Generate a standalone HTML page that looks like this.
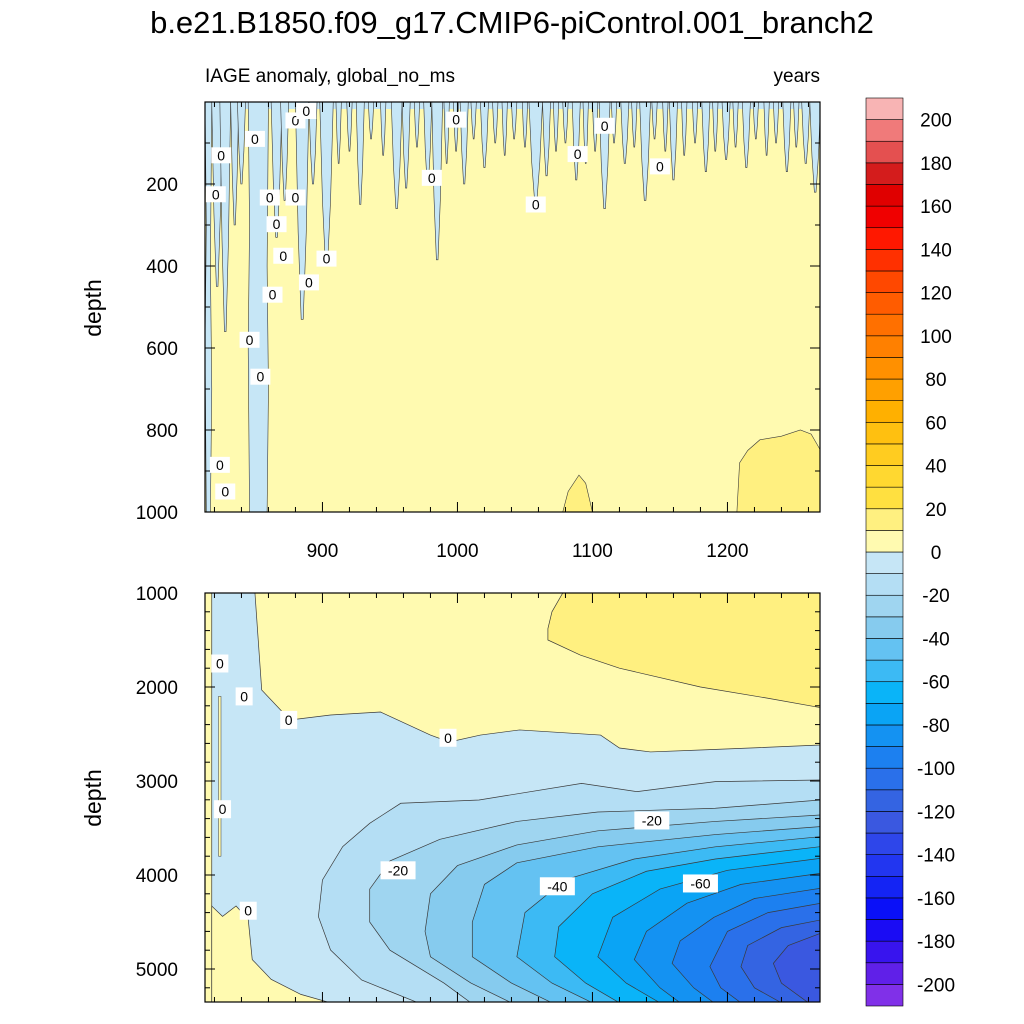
<!DOCTYPE html>
<html><head><meta charset="utf-8"><style>
html,body{margin:0;padding:0;background:#fff;}
svg{display:block;font-family:"Liberation Sans",sans-serif;}
</style></head><body>
<svg id="chart" width="1024" height="1024" viewBox="0 0 1024 1024" xmlns="http://www.w3.org/2000/svg">
<text x="512" y="33" font-size="31" text-anchor="middle">b.e21.B1850.f09_g17.CMIP6-piControl.001_branch2</text>
<text x="205" y="82" font-size="19">IAGE anomaly, global_no_ms</text>
<text x="820" y="82" font-size="19" text-anchor="end">years</text>
<text transform="translate(101,308) rotate(-90)" font-size="23" text-anchor="middle">depth</text>
<text transform="translate(101,798) rotate(-90)" font-size="23" text-anchor="middle">depth</text>
<defs>
<clipPath id="clipTop"><rect x="205" y="102" width="615" height="410"/></clipPath>
<clipPath id="clipBot"><rect x="205" y="593" width="615" height="409"/></clipPath>
</defs>
<g id="topPanel" clip-path="url(#clipTop)"></g>
<g id="botPanel" clip-path="url(#clipBot)"></g>
<g id="axes"></g>
<g id="cbar"></g>
</svg>
<script>
// ---------- data ----------
const levelColors = ["#8030e8","#6020e8","#3814ee","#1a0cf4","#0a10f8","#1424f4","#2236f0","#2e46ea","#3a58e0","#3464e2","#2a70ea","#1c80f0","#1492f2","#0aa4f5","#0ab4f8","#3cbaf4","#64c2f2","#86cbee","#9fd5f0","#b4def4","#c6e6f6","#fffab0","#fff080","#ffe040","#ffd830","#ffcc20","#ffc010","#ffb000","#ffa000","#ff9000","#ff8000","#ff7000","#ff5c00","#ff4800","#ff3000","#ff1800","#f00000","#e00000","#d41c1c","#e45050","#f07a7a","#f8b4b4"];
const cbarLabels = [-200,-180,-160,-140,-120,-100,-80,-60,-40,-20,0,20,40,60,80,100,120,140,160,180,200];
const xTicks = [900,1000,1100,1200];
const topYTicks = [200,400,600,800,1000];
const botYTicks = [1000,2000,3000,4000,5000];

const spikeYears  = [822,828,835,840,866,872,885,893,903,912,920,928,936,945,955,962,970,978,985,992,999,1005,1012,1020,1028,1035,1042,1050,1058,1066,1073,1080,1088,1095,1102,1109,1116,1124,1131,1139,1146,1154,1160,1168,1176,1184,1191,1199,1206,1214,1221,1229,1236,1244,1251,1258,1265];
const spikeDepths = [450,560,300,200,330,240,530,200,400,150,120,250,90,130,260,210,110,200,385,150,120,200,90,160,100,130,90,110,245,180,120,100,190,150,120,260,100,150,110,240,90,120,190,130,100,170,120,140,110,160,90,130,100,170,110,150,220];
const spikeWidths = [4,4,3,3,4,3,5,3,5,2,2,3,2,2,4,3,2,3,4,2,2,3,2,3,2,2,2,2,5,3,2,2,3,2,2,4,2,3,2,4,2,2,3,2,2,3,2,3,2,3,2,2,2,3,2,3,4];
const deepColumnYears  = [813,818,845,860];
const topWarmYears  = [1207,1209,1215,1224,1240,1254,1262,1269,1269];
const topWarmDepths = [1000,880,850,824,815,800,810,850,1000];
const topHumpYears  = [1078,1082,1090,1095,1100];
const topHumpDepths = [1000,950,910,930,1000];

const zeroYears  = [818,850,855,876,906,943,980,994,1017,1046,1106,1120,1143,1180,1217,1269];
const zeroDepths = [1000,1000,2032,2351,2298,2266,2511,2585,2511,2457,2511,2649,2691,2670,2649,2617];
const warmYears  = [1078,1269,1269,1230,1180,1120,1091,1067,1067,1070];
const warmDepths = [1000,1000,2220,2120,2000,1800,1660,1500,1380,1200];
const blYears  = [818,818,826,836,845,848,862,884,906];
const blDepths = [5360,4330,4440,4330,4470,4900,5110,5270,5360];
const negLevels = [-10,-20,-30,-40,-50,-60,-70,-80,-90,-100,-110,-120];
const negYears = [
 [1269,1191,1133,1092,1016,958,935,915,900,897,906,929,971],
 [1269,1191,1104,1044,987,950,935,935,950,990,1010],
 [1269,1191,1104,1044,1000,980,976,980,1010,1040],
 [1269,1191,1104,1044,1020,1011,1011,1040,1070],
 [1269,1191,1131,1080,1050,1044,1070,1100],
 [1269,1191,1140,1100,1075,1072,1095,1120],
 [1269,1200,1150,1115,1104,1125,1150],
 [1269,1210,1170,1140,1131,1150,1165],
 [1269,1220,1190,1165,1159,1175,1190],
 [1269,1230,1200,1187,1195,1210],
 [1269,1240,1215,1210,1220,1240],
 [1269,1245,1234,1240,1260]
];
const negDepths = [
 [2989,3007,3113,3025,3202,3237,3450,3698,4053,4443,4798,5117,5360],
 [3202,3290,3330,3430,3620,3850,4150,4500,4800,5150,5360],
 [3361,3430,3530,3680,3900,4200,4600,4870,5150,5360],
 [3485,3570,3700,3870,4100,4500,4870,5150,5360],
 [3592,3700,3830,4050,4400,4870,5150,5360],
 [3698,3830,3960,4200,4550,4870,5150,5360],
 [3822,3950,4150,4450,4870,5150,5360],
 [3982,4100,4300,4600,4900,5200,5360],
 [4141,4250,4450,4700,4940,5200,5360],
 [4301,4400,4600,4975,5200,5360],
 [4478,4560,4750,4975,5200,5360],
 [4620,4750,4940,5150,5360]
];
const zeroLabels = [[880,45],[850,90],[825,130],[821,225],[861,233],[880,233],[866,298],[871,375],[903,382],[863,470],[890,440],[846,580],[854,670],[824,885],[828,950],[888,22],[999,43],[1109,58],[1089,127],[981,185],[1058,250],[1150,157]];
const botLabelText = ["0","0","0","0","0","0","-20","-20","-40","-60"];
const botLabelYears = [824,842,875,993,826,845,956,1144,1074,1180];
const botLabelDepths = [1750,2100,2350,2540,3300,4380,3950,3420,4120,4090];

// ---------- scales ----------
const X = yr => 205 + (yr - 813) * 1.35;
const YT = d => 102 + d * 0.41;
const YB = d => 593 + (d - 1000) * 0.094;
const NS = "http://www.w3.org/2000/svg";
function mk(tag, parent, attrs){const e=document.createElementNS(NS,tag);for(const k in attrs)e.setAttribute(k,attrs[k]);parent.appendChild(e);return e;}
const colorFor = v => levelColors[Math.max(0,Math.min(41,Math.floor((v+210)/10)))];
const LINE = "#3a3a3a";
const topG = document.getElementById('topPanel'), botG = document.getElementById('botPanel');
const axes = document.getElementById('axes'), cbar = document.getElementById('cbar');

// ---------- top panel ----------
let e = mk('rect', topG, {x:205,y:102,width:615,height:410,fill:colorFor(5)});


e = mk('rect', topG, {x:205,y:102,width:615,height:7,fill:colorFor(-5)});


for (let i=0;i<deepColumnYears.length;i+=2){
  const a=deepColumnYears[i], b=deepColumnYears[i+1];
  const pts=[[a,0],[a+1,300],[a,600],[a+1,1000],[b-1,1000],[b,700],[b-1,400],[b,0]];
  e = mk('polygon', topG, {points:pts.map(p=>X(p[0])+','+YT(p[1])).join(' '),fill:colorFor(-5),stroke:LINE,'stroke-width':0.6});
  
  
}
spikeYears.forEach((yr,i)=>{
  const d=spikeDepths[i], w=spikeWidths[i];
  const pts=[[yr-w,0],[yr-w*0.6,d*0.6],[yr-w*0.15,d],[yr+w*0.15,d],[yr+w*0.6,d*0.6],[yr+w,0]];
  const p = mk('polygon', topG, {points:pts.map(p=>X(p[0])+','+YT(p[1])).join(' '),fill:colorFor(-5),stroke:LINE,'stroke-width':0.6});
  
  
});
[[topWarmYears,topWarmDepths,'top-warm-region-deep'],[topHumpYears,topHumpDepths,'top-warm-hump']].forEach(([ys,ds,nm])=>{
  const p = mk('polygon', topG, {points:ys.map((y,i)=>X(y)+','+YT(ds[i])).join(' '),fill:colorFor(15),stroke:LINE,'stroke-width':0.6});
  
  
});
zeroLabels.forEach(([yr,d])=>{
  const g = mk('g', topG, {});
  
  
  mk('rect', g, {x:X(yr)-10,y:YT(d)-8,width:20,height:16,fill:'#fff'});
  const t = mk('text', g, {x:X(yr),y:YT(d)+5,'font-size':14,'text-anchor':'middle'});
  t.textContent='0';
});

// ---------- bottom panel ----------
e = mk('rect', botG, {x:205,y:593,width:615,height:409,fill:colorFor(5)});


e = mk('polygon', botG, {points:warmYears.map((y,i)=>X(y)+','+YB(warmDepths[i])).join(' '),fill:colorFor(15),stroke:LINE,'stroke-width':0.7});


{
  const pts = zeroYears.map((y,i)=>[y,zeroDepths[i]]).concat([[1269,5360],[818,5360]]);
  e = mk('polygon', botG, {points:pts.map(p=>X(p[0])+','+YB(p[1])).join(' '),fill:colorFor(-5),stroke:LINE,'stroke-width':0.7});
  
  
}
e = mk('polygon', botG, {points:blYears.map((y,i)=>X(y)+','+YB(blDepths[i])).join(' '),fill:colorFor(5),stroke:LINE,'stroke-width':0.7});


e = mk('rect', botG, {x:X(823),y:YB(2100),width:2.5,height:YB(3800)-YB(2100),fill:colorFor(5),stroke:LINE,'stroke-width':0.5});


negLevels.forEach((lv,k)=>{
  const pts = negYears[k].map((y,i)=>[y,negDepths[k][i]]).concat([[1269,5360]]);
  const p = mk('polygon', botG, {points:pts.map(q=>X(q[0])+','+YB(q[1])).join(' '),fill:colorFor(lv-5),stroke:LINE,'stroke-width':0.7});
  
  
});
botLabelText.forEach((txt,i)=>{
  const g = mk('g', botG, {});
  
  
  const w = txt.length*9+8;
  mk('rect', g, {x:X(botLabelYears[i])-w/2,y:YB(botLabelDepths[i])-9,width:w,height:18,fill:'#fff'});
  const t = mk('text', g, {x:X(botLabelYears[i]),y:YB(botLabelDepths[i])+5,'font-size':14,'text-anchor':'middle'});
  t.textContent = txt;
});

// ---------- axes ----------
function frame(y0,h,name){
  const r = mk('rect', axes, {x:205,y:y0,width:615,height:h,fill:'none',stroke:'#000','stroke-width':1.2});
  
  
}
frame(102,410,'top-panel-frame');
frame(593,409,'bottom-panel-frame');
function xTicksFor(y0,y1,labels,name){
  for(let yr=820; yr<=1260; yr+=20){
    const major = yr%100===0, len = major?10:5;
    [ [y0,1],[y1,-1] ].forEach(([yy,s])=>{
      const l = mk('line', axes, {x1:X(yr),x2:X(yr),y1:yy,y2:yy+s*len,stroke:'#000','stroke-width':1});
      
      
    });
  }
  if(labels) xTicks.forEach(v=>{
    const t = mk('text', axes, {x:X(v),y:y1+45,'font-size':19,'text-anchor':'middle'});
    
    
    t.textContent = v;
  });
}
xTicksFor(102,512,true,'top-x');
xTicksFor(593,1002,false,'bottom-x');
function yTicks(scale,lo,hi,step,majorList,name){
  for(let d=lo; d<=hi; d+=step){
    const major = majorList.includes(d), len = major?10:5, y = scale(d);
    [[205,1],[820,-1]].forEach(([xx,s])=>{
      const l = mk('line', axes, {x1:xx,x2:xx+s*len,y1:y,y2:y,stroke:'#000','stroke-width':1});
      
      
    });
  }
  majorList.forEach(v=>{
    const t = mk('text', axes, {x:178,y:scale(v)+7,'font-size':19,'text-anchor':'end'});
    
    
    t.textContent = v;
  });
}
yTicks(YT,100,1000,100,topYTicks,'top-y');
yTicks(YB,1000,5200,200,botYTicks,'bottom-y');

// ---------- colorbar ----------
const cbTop=98, cbBot=1006, cbH=(cbBot-cbTop)/42;
levelColors.forEach((c,i)=>{
  const r = mk('rect', cbar, {x:866,y:cbBot-(i+1)*cbH,width:37,height:cbH,fill:c,stroke:'#000','stroke-width':0.6});
  
  
});
cbarLabels.forEach(v=>{
  const y = cbBot - (v+210)/10*cbH;
  const t = mk('text', cbar, {x:936,y:y+7,'font-size':19,'text-anchor':'middle'});
  
  
  t.textContent = v;
});
</script>
</body></html>
